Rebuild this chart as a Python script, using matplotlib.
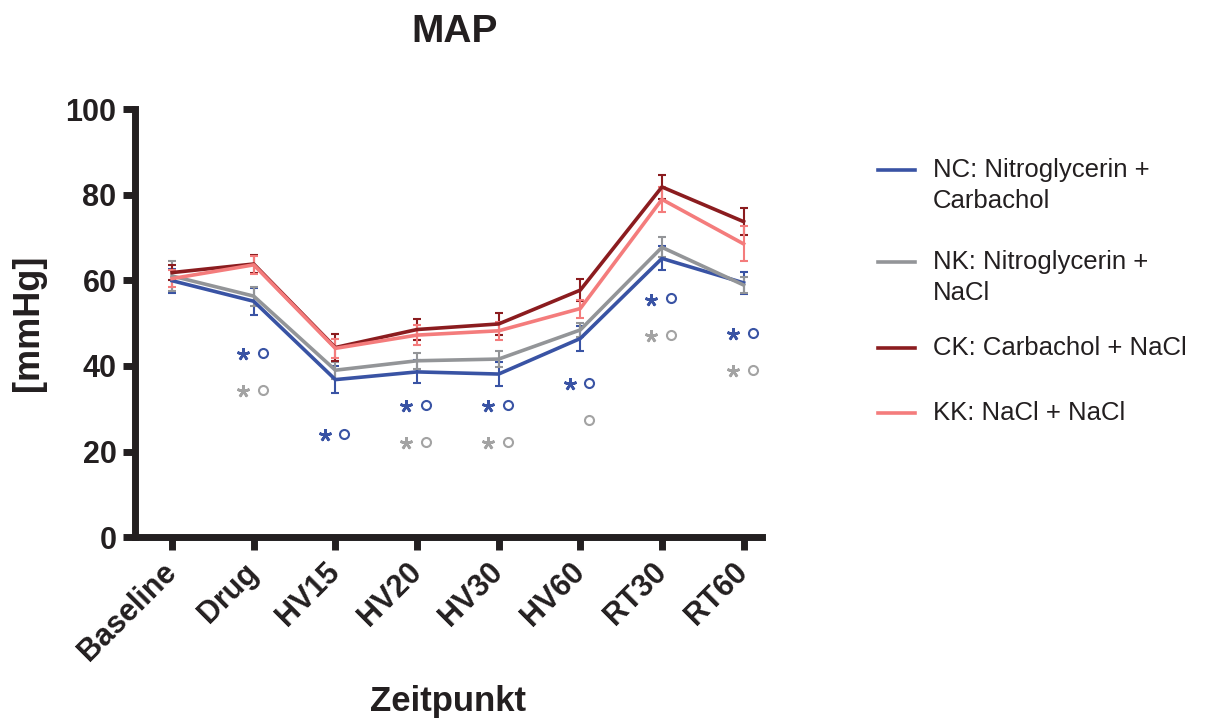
import numpy as np
import matplotlib
matplotlib.use("Agg")
import matplotlib.pyplot as plt
from matplotlib.lines import Line2D

plt.rcParams['font.family'] = ['Liberation Sans', 'DejaVu Sans']

# time points
timepoints = ['Baseline', 'Drug', 'HV15', 'HV20', 'HV30', 'HV60', 'RT30', 'RT60']

# group means (mmHg)
nc_mean = [59.9, 55.1, 36.8, 38.6, 38.1, 46.4, 65.1, 59.4]
nk_mean = [61.0, 56.3, 39.0, 41.2, 41.6, 48.4, 67.7, 58.9]
ck_mean = [61.8, 63.8, 44.3, 48.5, 49.8, 57.7, 81.8, 73.7]
kk_mean = [60.4, 63.6, 44.1, 47.2, 48.2, 53.4, 78.9, 68.5]

# SEM
nc_sem = [2.8, 3.2, 3.2, 2.7, 2.7, 2.9, 2.8, 2.6]
nk_sem = [3.5, 2.2, 2.0, 1.9, 1.9, 1.6, 2.3, 1.9]
ck_sem = [1.8, 2.1, 3.1, 2.4, 2.5, 2.5, 2.7, 3.1]
kk_sem = [2.0, 2.1, 2.3, 2.3, 2.1, 2.1, 3.0, 4.1]

labels = [['NC: Nitroglycerin +', 'Carbachol'],
          ['NK: Nitroglycerin +', 'NaCl'],
          ['CK: Carbachol + NaCl'],
          ['KK: NaCl + NaCl']]
colors = ['#3953a4', '#939598', '#8b1c1f', '#f47c7c']

# significance marks (y position in mmHg, nan = none)
blue_star_y = [np.nan, 42.8, 23.8, 30.7, 30.7, 35.7, 55.5, 47.4]
blue_circ_y = [np.nan, 43.1, 24.1, 30.9, 30.9, 36.1, 55.8, 47.7]
grey_star_y = [np.nan, 34.2, np.nan, 22.0, 22.0, np.nan, 47.0, 38.9]
grey_circ_y = [np.nan, 34.3, np.nan, 22.3, 22.3, 27.3, 47.2, 39.1]

ink = '#231f20'

fig = plt.figure(figsize=(12.12, 7.22), dpi=100)
ax = fig.add_axes([0.111, 0.256, 0.518, 0.593])

x = np.arange(len(timepoints))
means = [nc_mean, nk_mean, ck_mean, kk_mean]
sems = [nc_sem, nk_sem, ck_sem, kk_sem]
for m, s, c in zip(means, sems, colors):
    ax.errorbar(x, m, yerr=s, color=c, lw=2.6, elinewidth=1.5,
                capsize=3.2, capthick=1.5, zorder=3)

# significance markers
star = (5, 2, 0)
ax.plot(x - 0.13, blue_star_y, ls='none', marker=star, ms=9, mew=1.9,
        color=colors[0])
ax.plot(x + 0.11, blue_circ_y, ls='none', marker='o', ms=6.5, mew=1.5,
        mfc='none', color=colors[0])
ax.plot(x - 0.13, grey_star_y, ls='none', marker=star, ms=9, mew=1.9,
        color='#a3a3a3')
ax.plot(x + 0.11, grey_circ_y, ls='none', marker='o', ms=6.5, mew=1.5,
        mfc='none', color='#a3a3a3')

ax.set_xlim(-0.46, 7.23)
ax.set_ylim(0, 100)
ax.set_yticks([0, 20, 40, 60, 80, 100])
ax.set_xticks(x)
ax.set_xticklabels(timepoints, rotation=45, ha='right', va='center',
                   rotation_mode='anchor')
for sp in ['top', 'right']:
    ax.spines[sp].set_visible(False)
for sp in ['left', 'bottom']:
    ax.spines[sp].set_linewidth(5)
    ax.spines[sp].set_color(ink)
    ax.spines[sp].set_capstyle('projecting')
ax.tick_params(axis='both', width=5, length=9, color=ink, labelcolor=ink,
               labelsize=22)
ax.tick_params(axis='y', pad=4)
ax.tick_params(axis='x', pad=13)
for lab in ax.get_xticklabels() + ax.get_yticklabels():
    lab.set_fontweight('bold')

ax.set_ylabel('[mmHg]', fontsize=26, fontweight='bold', color=ink, labelpad=14)
ax.set_xlabel('Zeitpunkt', fontsize=25, fontweight='bold', color=ink, labelpad=13)
fig.text(455 / 1212, 1 - 32 / 722, 'MAP', fontsize=28, fontweight='bold',
         color=ink, ha='center', va='center')

# legend drawn by hand so the handle sits on the first text line
entry_y = [170, 262, 348, 413]
for lab, c, yy in zip(labels, colors, entry_y):
    fy = 1 - yy / 722
    fig.add_artist(Line2D([878 / 1212, 915 / 1212], [fy, fy], color=c, lw=2.6))
    for i, line in enumerate(lab):
        fig.text(933 / 1212, 1 - (yy + 31 * i) / 722, line, fontsize=18.5,
                 color=ink, ha='left', va='center')

fig.savefig('out.png', dpi=100)
